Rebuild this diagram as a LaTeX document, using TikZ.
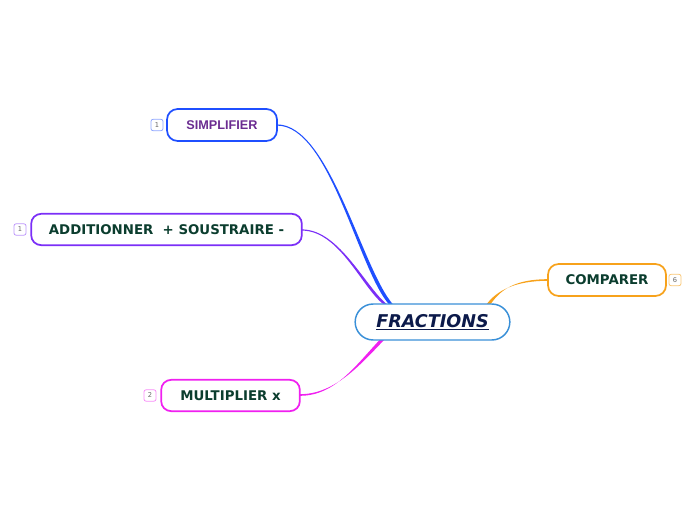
\documentclass[tikz,border=0pt]{standalone}
\usepackage{fontspec}
\setmainfont{DejaVu Sans}
\newfontfamily\arialfont{Liberation Sans}
\definecolor{cblue}{HTML}{1F4FFF}
\definecolor{cviolet}{HTML}{7B2FF7}
\definecolor{cmag}{HTML}{F020F0}
\definecolor{corange}{HTML}{F7A21B}
\definecolor{ccentral}{HTML}{3A90D8}
\definecolor{ctxtgreen}{HTML}{0B3D2E}
\definecolor{ctxtnavy}{HTML}{0C1A4A}
\definecolor{ctxtpurple}{HTML}{6B2C91}
\begin{document}
\begin{tikzpicture}[x=0.75pt,y=-0.75pt,
  topic/.style={draw, line width=1.3pt, fill=white, rounded corners=7.5pt, inner sep=0pt,
    font=\fontsize{10pt}{12pt}\selectfont\bfseries, text=ctxtgreen, minimum height=23.5pt},
  badge/.style={draw, line width=0.6pt, fill=white, rounded corners=1.5pt, inner sep=0pt,
    minimum width=9pt, minimum height=8.5pt, font=\fontsize{5pt}{6pt}\selectfont, text=black!60}]
\useasboundingbox (0,0) rectangle (696,520);
% branches (tapered)
\fill[cblue] (277,124.4) .. controls (330,124.4) and (362,270) .. (393.5,305) -- (389.5,305) .. controls (358,270) and (330,125.6) .. (277,125.6) -- cycle;
\fill[cviolet] (302,229.4) .. controls (340,229.4) and (367,290) .. (388,305) -- (384.5,305) .. controls (363,290) and (340,230.6) .. (302,230.6) -- cycle;
\fill[cmag] (300,394.2) .. controls (335,394.2) and (360.5,364.5) .. (385,339) -- (380.5,339) .. controls (355.5,365.5) and (335,395.8) .. (300,395.8) -- cycle;
\fill[corange] (548,279.2) .. controls (515,279.2) and (500.5,289.5) .. (490,305) -- (486,305) .. controls (496.5,290.5) and (515,280.8) .. (548,280.8) -- cycle;
% central
\node[draw=ccentral, line width=1.1pt, fill=white, rounded corners=13.5pt, minimum width=116pt, minimum height=27pt, inner sep=0pt,
  font=\fontsize{13.2pt}{15pt}\selectfont\bfseries\itshape, text=ctxtnavy] (frac) at (432.5,322) {\raisebox{-1pt}{\underline{FRACTIONS}}};
% topics
\node[topic, draw=cblue, minimum width=82.5pt, minimum height=24pt, rounded corners=8pt, text=ctxtpurple, font=\arialfont\fontsize{9.5pt}{11pt}\selectfont\bfseries] (simp) at (222,125) {SIMPLIFIER};
\node[topic, draw=cviolet, minimum width=203pt] (add) at (166.5,229.5) {ADDITIONNER\ \ + SOUSTRAIRE -};
\node[topic, draw=cmag, minimum width=104pt] (mult) at (230.5,395.5) {MULTIPLIER x};
\node[topic, draw=corange, minimum width=88.5pt, minimum height=24pt, rounded corners=8pt] (comp) at (607,280) {COMPARER};
% badges
\node[badge, draw=cblue!50] (b1) at (157,125) {1};
\node[badge, draw=cviolet!50] (b2) at (20,229.5) {1};
\node[badge, draw=cmag!50] (b3) at (150,395.5) {2};
\node[badge, draw=corange!60] (b4) at (675,280) {6};
\end{tikzpicture}
\end{document}
